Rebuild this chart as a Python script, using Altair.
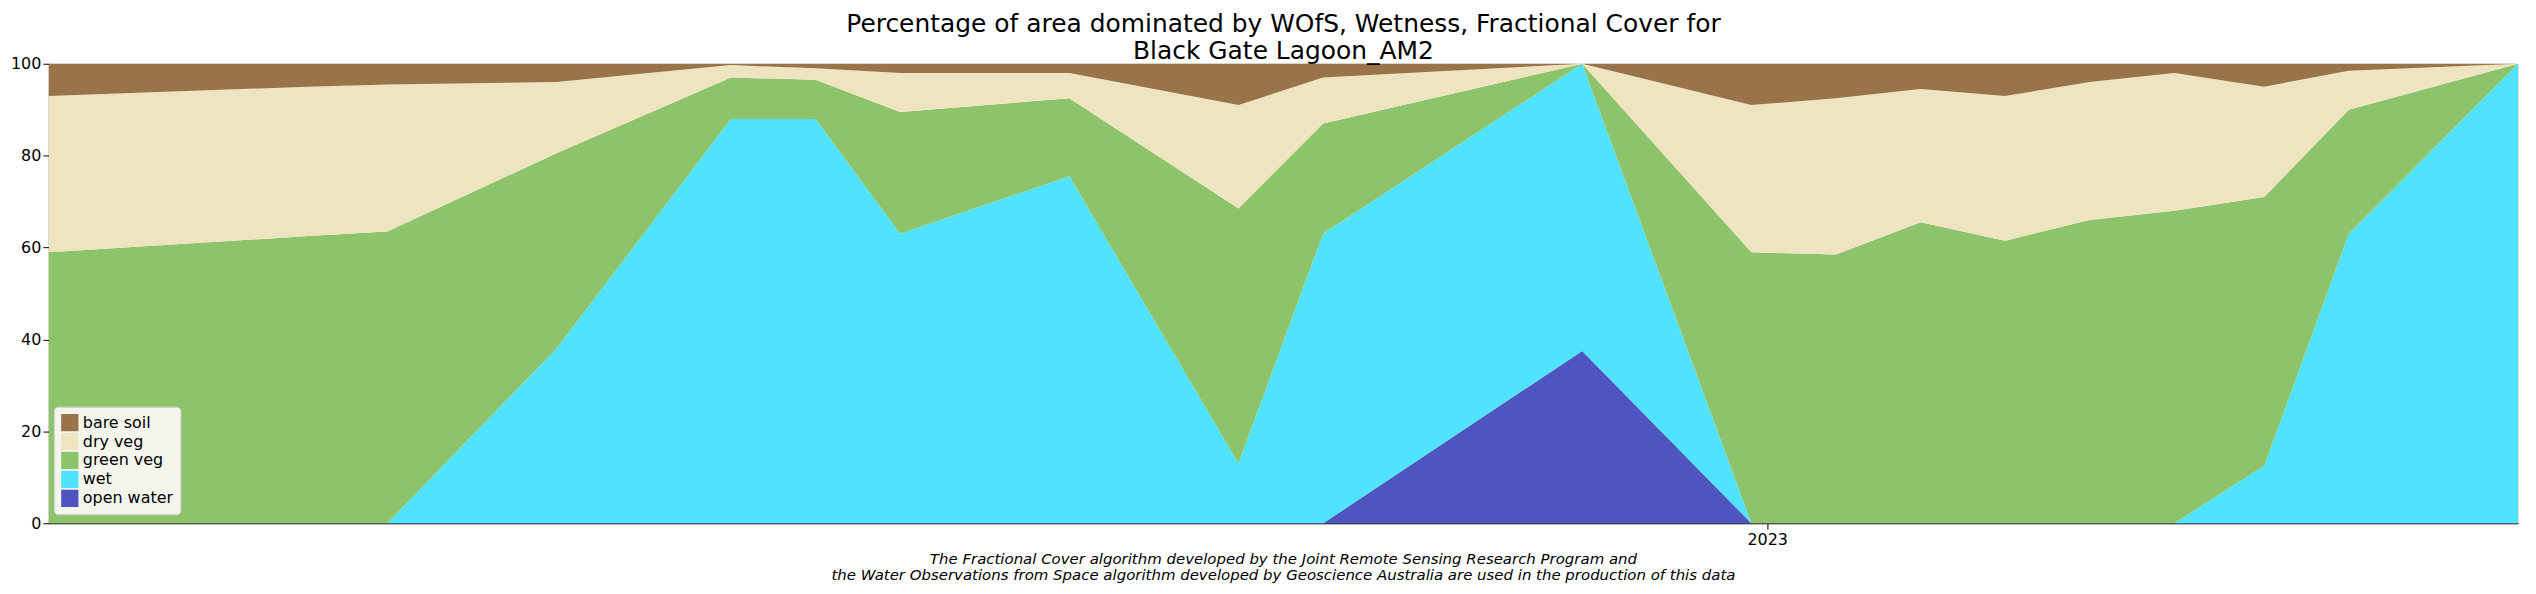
import altair as alt
import pandas as pd

dates = ["2022-02-10", "2022-03-31", "2022-04-15", "2022-05-17", "2022-06-19",
         "2022-07-05", "2022-07-21", "2022-08-22", "2022-09-23", "2022-10-09",
         "2022-11-27", "2022-12-29", "2023-01-14", "2023-01-30", "2023-02-15",
         "2023-03-03", "2023-03-19", "2023-04-05", "2023-04-21", "2023-05-23"]

# cumulative tops of each band (percent)
open_water_top = [0, 0, 0, 0, 0, 0, 0, 0, 0, 0, 37.5, 0, 0, 0, 0, 0, 0, 0, 0, 0]
wet_top = [0, 0, 0, 38, 88, 88, 63, 75.5, 13, 63, 100, 0, 0, 0, 0, 0, 0, 12.5, 63, 100]
green_top = [59, 62.5, 63.5, 80.5, 97, 96.5, 89.5, 92.5, 68.5, 87, 100, 59, 58.5, 65.5,
             61.5, 66, 68, 71, 90, 100]
dry_top = [93, 95, 95.5, 96, 99.7, 99, 98, 98, 91, 97, 100, 91, 92.5, 94.5, 93, 96, 98,
           95, 98.5, 100]

series = ["bare soil", "dry veg", "green veg", "wet", "open water"]
colors = ["#99744A", "#EEE5C0", "#8DC46B", "#4FE3FF", "#4F55C0"]

rows = []
for i, d in enumerate(dates):
    vals = {
        "open water": open_water_top[i],
        "wet": wet_top[i] - open_water_top[i],
        "green veg": green_top[i] - wet_top[i],
        "dry veg": dry_top[i] - green_top[i],
        "bare soil": 100 - dry_top[i],
    }
    for k, v in vals.items():
        rows.append({"date": d, "cover": k, "pct": v, "order": 4 - series.index(k)})
df = pd.DataFrame(rows)

W, H = 2477, 461

area = alt.Chart(df).mark_area(opacity=1).encode(
    x=alt.X("date:T", title=None,
            scale=alt.Scale(domain=["2022-02-10", "2023-05-23"]),
            axis=alt.Axis(values=[alt.DateTime(year=2023, month=1, date=1)],
                          format="%Y", labelFontSize=16, tickSize=6,
                          grid=False, labelColor="black", tickColor="black",
                          domainColor="black")),
    y=alt.Y("pct:Q", stack="zero", title=None,
            scale=alt.Scale(domain=[0, 100], nice=False),
            axis=alt.Axis(values=[0, 20, 40, 60, 80, 100], labelFontSize=16,
                          tickSize=6, grid=False, labelColor="black",
                          tickColor="black", domainColor="black")),
    color=alt.Color("cover:N", scale=alt.Scale(domain=series, range=colors),
                    legend=alt.Legend(title=None, orient="none", legendX=5, legendY=344,
                                      symbolType="square", symbolSize=300,
                                      labelFontSize=16, rowPadding=1,
                                      fillColor="#f4f6ee", strokeColor="#cccccc",
                                      padding=7, cornerRadius=4,
                                      symbolStrokeWidth=0)),
    order=alt.Order("order:Q"),
)

footer = pd.DataFrame({"line": [
    "The Fractional Cover algorithm developed by the Joint Remote Sensing Research Program and",
    "the Water Observations from Space algorithm developed by Geoscience Australia are used in the production of this data"],
    "yy": [H + 36, H + 52]})
foot = alt.Chart(footer).mark_text(fontSize=15, fontStyle="italic", color="black",
                                   font="DejaVu Sans").encode(
    x=alt.value(W * 0.5), y=alt.Y("yy:Q", scale=None), text="line:N")

chart = alt.layer(area, foot).properties(
    width=W, height=H,
    autosize=alt.AutoSizeParams(type="none"),
    padding={"left": 41, "top": 55, "right": 10, "bottom": 62},
    title=alt.Title(["Percentage of area dominated by WOfS, Wetness, Fractional Cover for",
                     "Black Gate Lagoon_AM2"], fontSize=25, fontWeight="normal",
                    font="DejaVu Sans", color="black", offset=-8),
).configure_view(stroke="black", strokeWidth=1.5).configure(font="DejaVu Sans")

chart.save("out.html", embed_options={"renderer": "svg", "actions": False})
